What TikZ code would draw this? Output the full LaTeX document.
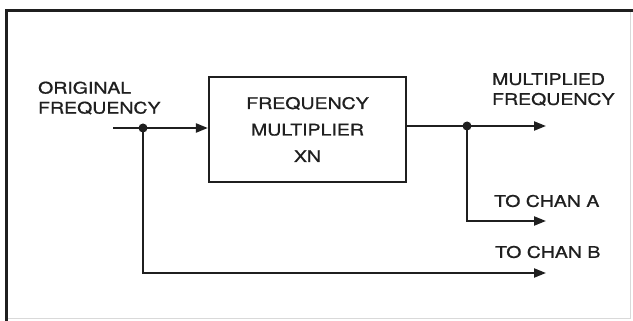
\documentclass[tikz,border=0pt]{standalone}
\usepackage{fontspec}
\newfontfamily\diagfont[FakeStretch=1.22, FakeBold=0.9]{TeX Gyre Heros}
\usetikzlibrary{arrows.meta, positioning}

\begin{document}
\begin{tikzpicture}[x=1pt, y=-1pt, line width=2.2pt, color=black!88,
  sig/.style={-{Triangle[length=12pt, width=9pt]}},
  lbl/.style={font=\diagfont\fontsize{16}{20}\selectfont, align=left, inner sep=0pt, anchor=west},
  block/.style={draw, minimum width=197pt, minimum height=105pt, inner sep=0pt,
    font=\diagfont\fontsize{16}{26.5}\selectfont, align=center}]
  \useasboundingbox (0,0) rectangle (633,321);

  % frame
  \draw[gray!30, line width=1pt] (630,11) -- (630,318) -- (6,318);
  \draw[line width=3pt] (6,321) -- (6,11) -- (633,11);

  % block
  \node[block] (mult) at (307.5,129.5) {FREQUENCY\\MULTIPLIER\\XN};

  \coordinate (in)    at (113,128);
  \coordinate (split) at (143,128);
  \coordinate (tap)   at (467,126);
  \coordinate (outM)  at (546,126);
  \coordinate (outA)  at (546,221);
  \coordinate (outB)  at (546,273);

  % connectors
  \draw[sig] (in) -- (mult.west |- in);
  \draw[sig] (mult.east |- tap) -- (outM);
  \draw[sig] (tap) |- (outA);
  \draw[sig] (split) |- (outB);
  \fill (split) circle (4.5pt);
  \fill (tap) circle (4.5pt);

  % labels
  \node[lbl] (orig) at (37,98)   {ORIGINAL\\FREQUENCY};
  \node[lbl] (mfrq) at (491,89.5) {MULTIPLIED\\FREQUENCY};
  \node[lbl] (chA)  at (493,201) {TO CHAN A};
  \node[lbl] (chB)  at (494,252) {TO CHAN B};
\end{tikzpicture}
\end{document}
